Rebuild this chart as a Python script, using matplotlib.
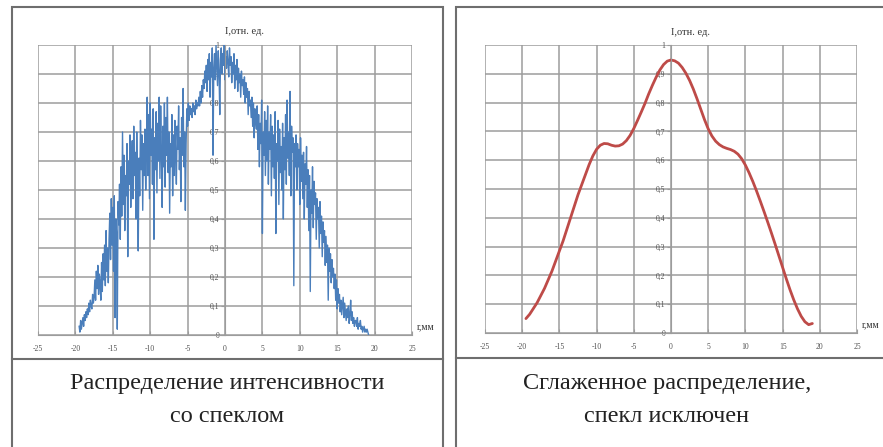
import numpy as np
import matplotlib
matplotlib.use("Agg")
import matplotlib.pyplot as plt
from matplotlib.patches import Rectangle
from matplotlib.lines import Line2D

# --- data -------------------------------------------------------------
x_ticks = [-25, -20, -15, -10, -5, 0, 5, 10, 15, 20, 25]
x_tick_labels = ['-25', '-20', '-15', '-10', '-5', '0', '5', '10', '15', '20', '25']
y_ticks = [0, 0.1, 0.2, 0.3, 0.4, 0.5, 0.6, 0.7, 0.8, 0.9, 1.0]
y_tick_labels = ['0', '0,1', '0,2', '0,3', '0,4', '0,5', '0,6', '0,7', '0,8', '0,9', '1']

# speckle profile, sampled every 0.1 mm starting at r = -19.5 mm
speckle_r0 = -19.5
speckle_step = 0.1
speckle_i = [
    0.03, 0.01, 0.05, 0.02, 0.04, 0.06, 0.03, 0.07, 0.05, 0.08,
    0.06, 0.09, 0.07, 0.11, 0.08, 0.12, 0.10, 0.09, 0.14, 0.11,
    0.13, 0.19, 0.12, 0.22, 0.16, 0.24, 0.14, 0.21, 0.18, 0.12,
    0.25, 0.15, 0.28, 0.19, 0.31, 0.17, 0.36, 0.22, 0.30, 0.18,
    0.33, 0.42, 0.26, 0.47, 0.31, 0.44, 0.22, 0.48, 0.06, 0.40,
    0.35, 0.02, 0.46, 0.38, 0.52, 0.33, 0.58, 0.41, 0.70, 0.45,
    0.62, 0.36, 0.55, 0.48, 0.66, 0.27, 0.60, 0.52, 0.69, 0.44,
    0.58, 0.67, 0.47, 0.72, 0.55, 0.63, 0.40, 0.70, 0.52, 0.29,
    0.61, 0.48, 0.74, 0.57, 0.69, 0.43, 0.66, 0.55, 0.71, 0.50,
    0.64, 0.82, 0.55, 0.76, 0.47, 0.80, 0.62, 0.71, 0.52, 0.78,
    0.33, 0.68, 0.57, 0.77, 0.49, 0.73, 0.60, 0.82, 0.54, 0.79,
    0.63, 0.44, 0.72, 0.58, 0.80, 0.51, 0.75, 0.62, 0.82, 0.56,
    0.70, 0.42, 0.66, 0.58, 0.76, 0.48, 0.69, 0.55, 0.74, 0.61,
    0.52, 0.72, 0.64, 0.79, 0.57, 0.68, 0.46, 0.75, 0.62, 0.85,
    0.58, 0.70, 0.43, 0.66, 0.78, 0.72, 0.80, 0.74, 0.79, 0.76,
    0.78, 0.75, 0.80, 0.77, 0.79, 0.76, 0.81, 0.78, 0.80, 0.79,
    0.82, 0.79, 0.84, 0.80, 0.86, 0.82, 0.88, 0.85, 0.91, 0.87,
    0.93, 0.84, 0.95, 0.88, 0.97, 0.82, 0.94, 0.89, 0.99, 0.62,
    0.92, 0.97, 0.88, 1.00, 0.93, 0.86, 0.98, 0.91, 0.76, 0.95,
    0.99, 0.90, 0.97, 0.93, 1.00, 0.88, 0.96, 0.92, 0.98, 0.94,
    0.89, 0.99, 0.93, 0.96, 0.87, 0.94, 0.90, 0.97, 0.85, 0.93,
    0.88, 0.95, 0.84, 0.92, 0.87, 0.90, 0.82, 0.91, 0.86, 0.88,
    0.83, 0.89, 0.80, 0.87, 0.82, 0.85, 0.76, 0.84, 0.79, 0.81,
    0.75, 0.82, 0.72, 0.80, 0.68, 0.78, 0.74, 0.71, 0.79, 0.64,
    0.76, 0.58, 0.73, 0.66, 0.81, 0.35, 0.70, 0.62, 0.77, 0.55,
    0.74, 0.60, 0.79, 0.52, 0.70, 0.64, 0.76, 0.48, 0.72, 0.58,
    0.69, 0.54, 0.77, 0.35, 0.66, 0.60, 0.74, 0.45, 0.71, 0.56,
    0.65, 0.50, 0.73, 0.40, 0.68, 0.57, 0.76, 0.52, 0.81, 0.61,
    0.70, 0.55, 0.84, 0.48, 0.72, 0.63, 0.68, 0.17, 0.66, 0.58,
    0.69, 0.50, 0.66, 0.58, 0.64, 0.45, 0.68, 0.53, 0.62, 0.47,
    0.63, 0.40, 0.59, 0.52, 0.65, 0.44, 0.57, 0.36, 0.55, 0.15,
    0.50, 0.42, 0.58, 0.37, 0.53, 0.45, 0.49, 0.33, 0.47, 0.40,
    0.44, 0.30, 0.46, 0.35, 0.41, 0.27, 0.39, 0.32, 0.36, 0.24,
    0.34, 0.25, 0.31, 0.12, 0.30, 0.22, 0.28, 0.18, 0.26, 0.20,
    0.23, 0.16, 0.21, 0.12, 0.19, 0.09, 0.16, 0.11, 0.14, 0.08,
    0.12, 0.07, 0.10, 0.13, 0.06, 0.11, 0.08, 0.05, 0.09, 0.06,
    0.10, 0.04, 0.07, 0.12, 0.05, 0.08, 0.04, 0.06, 0.03, 0.05,
    0.05, 0.03, 0.06, 0.02, 0.04, 0.03, 0.05, 0.02, 0.03, 0.01,
    0.02, 0.03, 0.01, 0.02, 0.01, 0.02, 0.01, 0.00,
]

# smoothed profile, every 0.5 mm from -19.5 to 19 mm
smooth_r = [
    -19.5, -19.0, -18.5, -18.0, -17.5, -17.0, -16.5, -16.0, -15.5, -15.0,
    -14.5, -14.0, -13.5, -13.0, -12.5, -12.0, -11.5, -11.0, -10.5, -10.0,
    -9.5, -9.0, -8.5, -8.0, -7.5, -7.0, -6.5, -6.0, -5.5, -5.0,
    -4.5, -4.0, -3.5, -3.0, -2.5, -2.0, -1.5, -1.0, -0.5, 0.0,
    0.5, 1.0, 1.5, 2.0, 2.5, 3.0, 3.5, 4.0, 4.5, 5.0,
    5.5, 6.0, 6.5, 7.0, 7.5, 8.0, 8.5, 9.0, 9.5, 10.0,
    10.5, 11.0, 11.5, 12.0, 12.5, 13.0, 13.5, 14.0, 14.5, 15.0,
    15.5, 16.0, 16.5, 17.0, 17.5, 18.0, 18.5, 19.0,
]
smooth_i = [
    0.050, 0.065, 0.085, 0.105, 0.130, 0.155, 0.185, 0.215, 0.250, 0.285,
    0.320, 0.360, 0.400, 0.440, 0.480, 0.515, 0.550, 0.585, 0.615, 0.638,
    0.652, 0.658, 0.657, 0.652, 0.649, 0.650, 0.656, 0.668, 0.686, 0.710,
    0.738, 0.767, 0.797, 0.830, 0.860, 0.888, 0.913, 0.932, 0.944, 0.948,
    0.945, 0.937, 0.922, 0.902, 0.877, 0.847, 0.813, 0.777, 0.741, 0.709,
    0.684, 0.666, 0.654, 0.646, 0.641, 0.637, 0.631, 0.621, 0.605, 0.583,
    0.556, 0.526, 0.493, 0.458, 0.422, 0.385, 0.347, 0.308, 0.268, 0.228,
    0.188, 0.150, 0.115, 0.084, 0.058, 0.039, 0.029, 0.033,
]

captions = [['Распределение интенсивности', 'со спеклом'],
            ['Сглаженное распределение,', 'спекл исключен']]

speckle_r = speckle_r0 + speckle_step * np.arange(len(speckle_i))

# --- figure -----------------------------------------------------------
W, H = 883, 447
fig = plt.figure(figsize=(W / 100, H / 100), dpi=100)
serif = 'Liberation Serif'
grid_c = '#9c9c9c'
frame_c = '#6e6e6e'


def px(x0, y0, w, h):
    # pixel box (top-left origin) -> figure fraction
    return [x0 / W, 1 - (y0 + h) / H, w / W, h / H]


def setup(ax):
    ax.set_xlim(-25, 25)
    ax.set_ylim(0, 1)
    ax.set_xticks(x_ticks)
    ax.set_xticklabels(x_tick_labels)
    ax.set_yticks(y_ticks)
    ax.set_yticklabels(y_tick_labels)
    ax.grid(True, color=grid_c, lw=1.1)
    ax.set_axisbelow(True)
    for s in ['top', 'right']:
        ax.spines[s].set_visible(False)
    ax.spines['left'].set_position(('data', 0))
    ax.spines['left'].set_color(grid_c)
    ax.spines['bottom'].set_color(grid_c)
    ax.tick_params(axis='both', colors=grid_c, labelcolor='#505050',
                   labelsize=5.5, length=3, width=0.8)
    ax.tick_params(axis='x', direction='in', pad=7)
    ax.tick_params(axis='y', direction='out', pad=1)
    for lab in ax.get_xticklabels() + ax.get_yticklabels():
        lab.set_fontfamily(serif)
    ax.text(0.5, 1.045, 'I,отн. ед.', transform=ax.transAxes, ha='left',
            va='center', fontsize=7.5, family=serif, color='#333333')
    ax.text(1.012, 0.03, 'r,мм', transform=ax.transAxes, ha='left',
            va='center', fontsize=7, family=serif, color='#333333')


ax1 = fig.add_axes(px(38, 45, 374, 290))
setup(ax1)
ax1.plot(speckle_r, speckle_i, color='#4a7ebb', lw=1.0)

ax2 = fig.add_axes(px(485, 45, 372, 288))
setup(ax2)
ax2.plot(smooth_r, smooth_i, color='#be4b48', lw=2.0, solid_capstyle='round')

# panel borders and caption boxes
for (x0, x1, ysep) in [(12, 443, 359), (456, 885, 358)]:
    fig.add_artist(Rectangle((x0 / W, -0.01), (x1 - x0) / W, 1.01 - 7 / H,
                             transform=fig.transFigure, fill=False,
                             ec=frame_c, lw=1.5))
    fig.add_artist(Line2D([x0 / W, x1 / W], [1 - ysep / H] * 2,
                          transform=fig.transFigure, color=frame_c, lw=1.5))

for cx, lines in zip([227, 667], captions):
    for cy, txt in zip([384, 417], lines):
        fig.text(cx / W, 1 - cy / H, txt, ha='center', va='center',
                 fontsize=17.5, family=serif, color='#222222')

fig.savefig('out.png', dpi=100)
